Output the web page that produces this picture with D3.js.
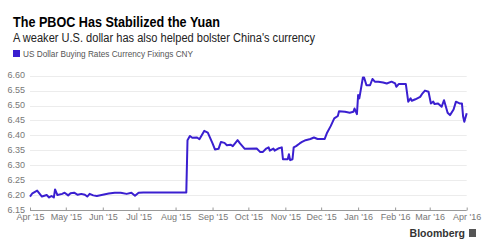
<!DOCTYPE html>
<html>
<head>
<meta charset="utf-8">
<script src="https://cdn.jsdelivr.net/npm/d3@7"></script>
<style>
  html, body { margin: 0; padding: 0; background: #fff; }
  svg { display: block; font-family: "Liberation Sans", Arial, sans-serif; }
  .grid line { stroke: #ececec; stroke-width: 1; }
  .axis text { fill: #777; font-size: 9px; }
  .axis path, .axis line { stroke: #999; }
</style>
</head>
<body>
<div id="chart"></div>
<script>
// ---- Data ----
var TITLE = 'The PBOC Has Stabilized the Yuan';
var SUBTITLE = 'A weaker U.S. dollar has also helped bolster China\'s currency';
var SERIES_NAME = 'US Dollar Buying Rates Currency Fixings CNY';

var Y_TICKS = [6.15, 6.20, 6.25, 6.30, 6.35, 6.40, 6.45, 6.50, 6.55, 6.60];

var DATES = [
  '2015-04-01', '2015-04-03', '2015-04-07', '2015-04-11', '2015-04-15', '2015-04-17',
  '2015-04-19', '2015-04-21', '2015-04-22', '2015-04-24', '2015-04-28', '2015-04-30',
  '2015-05-03', '2015-05-05', '2015-05-08', '2015-05-11', '2015-05-14', '2015-05-17',
  '2015-05-19', '2015-05-21', '2015-05-24', '2015-05-27', '2015-06-01', '2015-06-06',
  '2015-06-11', '2015-06-16', '2015-06-21', '2015-06-25', '2015-06-28', '2015-07-01',
  '2015-07-05', '2015-08-10', '2015-08-11', '2015-08-13', '2015-08-15', '2015-08-19',
  '2015-08-21', '2015-08-25', '2015-08-28', '2015-09-01', '2015-09-03', '2015-09-06',
  '2015-09-08', '2015-09-11', '2015-09-13', '2015-09-16', '2015-09-18', '2015-09-22',
  '2015-09-24', '2015-09-28', '2015-10-08', '2015-10-11', '2015-10-13', '2015-10-16',
  '2015-10-18', '2015-10-19', '2015-10-22', '2015-10-23', '2015-10-26', '2015-10-29',
  '2015-10-30', '2015-11-03', '2015-11-04', '2015-11-05', '2015-11-07', '2015-11-08',
  '2015-11-10', '2015-11-13', '2015-11-15', '2015-11-18', '2015-11-22', '2015-11-25',
  '2015-11-28', '2015-12-04', '2015-12-06', '2015-12-09', '2015-12-12', '2015-12-15',
  '2015-12-16', '2015-12-21', '2015-12-25', '2015-12-28', '2015-12-29', '2015-12-31',
  '2016-01-01', '2016-01-02', '2016-01-05', '2016-01-06', '2016-01-08', '2016-01-11',
  '2016-01-13', '2016-01-15', '2016-01-18', '2016-01-22', '2016-01-25', '2016-01-29',
  '2016-02-01', '2016-02-02', '2016-02-04', '2016-02-10', '2016-02-12', '2016-02-14',
  '2016-02-15', '2016-02-18', '2016-02-22', '2016-02-24', '2016-02-26', '2016-02-29',
  '2016-03-02', '2016-03-04', '2016-03-05', '2016-03-08', '2016-03-11', '2016-03-13',
  '2016-03-16', '2016-03-18', '2016-03-21', '2016-03-23', '2016-03-26', '2016-03-28',
  '2016-03-29', '2016-03-30', '2016-04-01'
];

var RATES = [
  6.195, 6.206, 6.215, 6.195, 6.200, 6.192,
  6.197, 6.192, 6.219, 6.200, 6.204, 6.208,
  6.199, 6.206, 6.208, 6.201, 6.204, 6.201,
  6.195, 6.204, 6.199, 6.197, 6.201, 6.205,
  6.208, 6.208, 6.204, 6.208, 6.198, 6.208,
  6.209, 6.209, 6.384, 6.398, 6.392, 6.393,
  6.387, 6.415, 6.409, 6.373, 6.353, 6.355,
  6.378, 6.375, 6.367, 6.369, 6.364, 6.384,
  6.373, 6.355, 6.356, 6.344, 6.344, 6.356,
  6.360, 6.349, 6.356, 6.349, 6.356, 6.360,
  6.320, 6.320, 6.337, 6.317, 6.320, 6.360,
  6.364, 6.373, 6.378, 6.384, 6.388, 6.393,
  6.388, 6.388, 6.409, 6.431, 6.457, 6.465,
  6.481, 6.479, 6.476, 6.479, 6.490, 6.471,
  6.535, 6.524, 6.594, 6.594, 6.568, 6.568,
  6.589, 6.580, 6.580, 6.577, 6.574, 6.580,
  6.574, 6.563, 6.572, 6.572, 6.513, 6.524,
  6.516, 6.521, 6.529, 6.541, 6.550, 6.546,
  6.507, 6.513, 6.505, 6.507, 6.496, 6.518,
  6.476, 6.468, 6.487, 6.513, 6.507, 6.507,
  6.463, 6.446, 6.474
];

var LINE_COLOR = '#3a1fd0';

(function () {
  var width = 488, height = 251;
  var parse = d3.timeParse('%Y-%m-%d');
  var data = DATES.map(function (d, i) { return { date: parse(d), value: RATES[i] }; });

  var svg = d3.select('#chart').append('svg')
    .attr('width', width)
    .attr('height', height);

  // Header
  svg.append('text')
    .attr('x', 13).attr('y', 27)
    .attr('font-size', 15.5).attr('font-weight', 'bold')
    .attr('fill', '#000')
    .attr('textLength', 207).attr('lengthAdjust', 'spacingAndGlyphs')
    .text(TITLE);

  svg.append('text')
    .attr('x', 13).attr('y', 42)
    .attr('font-size', 12.5).attr('fill', '#222')
    .attr('textLength', 302).attr('lengthAdjust', 'spacingAndGlyphs')
    .text(SUBTITLE);

  // Legend
  svg.append('rect')
    .attr('x', 13).attr('y', 50).attr('width', 7).attr('height', 7)
    .attr('fill', LINE_COLOR);
  svg.append('text')
    .attr('x', 23).attr('y', 57)
    .attr('font-size', 9).attr('fill', '#555')
    .attr('textLength', 170).attr('lengthAdjust', 'spacingAndGlyphs')
    .text(SERIES_NAME);

  // Scales
  var x = d3.scaleTime()
    .domain([parse('2015-04-01'), parse('2016-04-01')])
    .range([30, 466.7]);
  var y = d3.scaleLinear()
    .domain([6.15, 6.60])
    .range([210, 75.7]);

  // Gridlines
  svg.append('g').attr('class', 'grid')
    .selectAll('line')
    .data(Y_TICKS.slice(1))
    .enter().append('line')
    .attr('x1', 30).attr('x2', 466.7)
    .attr('y1', function (d) { return Math.round(y(d)) + 0.5; })
    .attr('y2', function (d) { return Math.round(y(d)) + 0.5; });

  // Y labels
  svg.append('g').attr('class', 'axis')
    .selectAll('text')
    .data(Y_TICKS)
    .enter().append('text')
    .attr('x', 25)
    .attr('y', function (d) { return y(d) + 2.5; })
    .attr('text-anchor', 'end')
    .text(function (d) { return d.toFixed(2); });

  // X axis
  var xAxis = d3.axisBottom(x)
    .ticks(d3.timeMonth.every(1))
    .tickSize(-3)
    .tickFormat(function (d) { return d3.timeFormat('%b \'%y')(d); });

  var gx = svg.append('g').attr('class', 'axis')
    .attr('transform', 'translate(0,' + (Math.round(y(6.15)) + 0.5) + ')')
    .call(xAxis);
  gx.select('.domain').attr('d', 'M30,0H466.7');
  gx.selectAll('.tick text').attr('y', 3.5).attr('font-family', '"Liberation Sans", Arial, sans-serif');

  // Line
  var line = d3.line()
    .x(function (d) { return x(d.date); })
    .y(function (d) { return y(d.value); });

  svg.append('path')
    .datum(data)
    .attr('fill', 'none')
    .attr('stroke', LINE_COLOR)
    .attr('stroke-width', 2)
    .attr('stroke-linejoin', 'round')
    .attr('d', line);

  // Footer
  svg.append('text')
    .attr('x', 465).attr('y', 237)
    .attr('text-anchor', 'end')
    .attr('font-size', 10.5).attr('font-weight', 'bold')
    .attr('fill', '#333')
    .text('Bloomberg');
  svg.append('rect')
    .attr('x', 469).attr('y', 229).attr('width', 7).attr('height', 8)
    .attr('fill', '#555');
})();
</script>
</body>
</html>
